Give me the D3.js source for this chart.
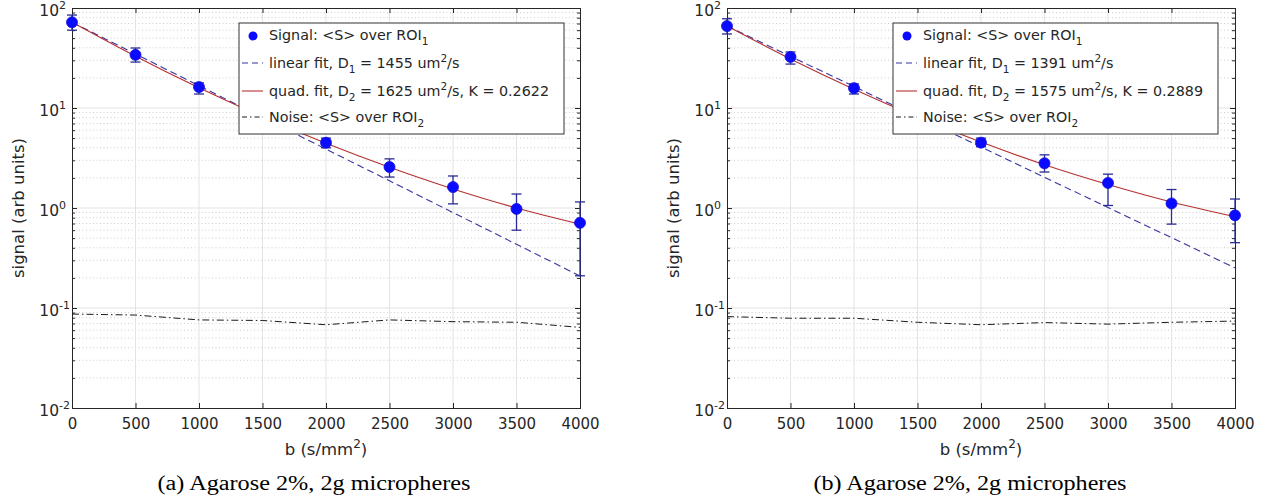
<!DOCTYPE html>
<html><head><meta charset="utf-8">
<script src="https://cdn.jsdelivr.net/npm/d3@7"></script>
<style>
html,body{margin:0;padding:0;background:#fff;}
svg{display:block;}
text{font-family:"DejaVu Sans",sans-serif;fill:#262626;}
</style></head>
<body>
<svg id="chart" width="1270" height="503"></svg>
<script>
// ---- data ----
const bValues = [0, 500, 1000, 1500, 2000, 2500, 3000, 3500, 4000];
const sigB = [0, 500, 1000, 2000, 2500, 3000, 3500, 4000];
const xTicks = [0, 500, 1000, 1500, 2000, 2500, 3000, 3500, 4000];
const yTickExps = [-2, -1, 0, 1, 2];

// panel (a)
const sigA   = [72, 34, 16.2, 4.5, 2.57, 1.62, 0.98, 0.71];
const errHiA = [85, 39.8, 17.8, 5.0, 3.1, 2.09, 1.38, 1.15];
const errLoA = [60, 28.8, 13.8, 4.0, 2.04, 1.1, 0.6, 0.21];
const linA   = [72, 34.7, 16.7, 8.06, 3.88, 1.87, 0.90, 0.434, 0.209];
const quadA  = [72, 32.9, 15.9, 8.16, 4.43, 2.55, 1.55, 1.00, 0.69];
const noiseA = [0.087, 0.085, 0.076, 0.075, 0.068, 0.076, 0.073, 0.072, 0.064];
const legendA = {D1: "1455", D2: "1625", K: "0.2622"};
const captionA = "(a) Agarose 2%, 2g micropheres";

// panel (b)
const sigBv  = [66, 32.4, 15.8, 4.5, 2.8, 1.78, 1.11, 0.845];
const errHiB = [78, 36.3, 17.4, 5.0, 3.4, 2.18, 1.53, 1.23];
const errLoB = [55, 27.5, 13.8, 4.1, 2.29, 1.06, 0.69, 0.45];
const linB   = [66, 32.9, 16.4, 8.18, 4.08, 2.03, 1.01, 0.505, 0.252];
const quadB  = [66, 30.9, 15.4, 8.13, 4.56, 2.71, 1.72, 1.15, 0.82];
const noiseB = [0.082, 0.079, 0.079, 0.072, 0.068, 0.0715, 0.069, 0.072, 0.074];
const legendB = {D1: "1391", D2: "1575", K: "0.2889"};
const captionB = "(b) Agarose 2%, 2g micropheres";

const svg = d3.select("#chart");

function panel(opt) {
  const {x0, x1, top, bottom} = opt;
  const x = d3.scaleLinear().domain([0, 4000]).range([x0, x1]);
  const y = d3.scaleLog().domain([0.01, 100]).range([bottom, top]);
  const g = svg.append("g");

  // minor grid (dotted)
  const minors = [];
  for (let e = -2; e < 2; e++) for (let m = 2; m <= 9; m++) minors.push(m * Math.pow(10, e));
  g.append("g").selectAll("line").data(minors).join("line")
    .attr("x1", x0).attr("x2", x1).attr("y1", d => y(d)).attr("y2", d => y(d))
    .attr("stroke", "#c0c0c0").attr("stroke-width", 0.8).attr("stroke-dasharray", "1,2.5");
  // major grid
  g.append("g").selectAll("line").data(xTicks.slice(1, -1)).join("line")
    .attr("x1", d => x(d)).attr("x2", d => x(d)).attr("y1", top).attr("y2", bottom)
    .attr("stroke", "#e3e3e3").attr("stroke-width", 1);
  g.append("g").selectAll("line").data(yTickExps.slice(1, -1)).join("line")
    .attr("x1", x0).attr("x2", x1).attr("y1", d => y(Math.pow(10, d))).attr("y2", d => y(Math.pow(10, d)))
    .attr("stroke", "#e3e3e3").attr("stroke-width", 1);

  // axes via d3 axis (ticks inward)
  const axB = d3.axisBottom(x).tickValues(xTicks).tickSize(-5).tickFormat(d3.format("d")).tickPadding(10);
  const gx = g.append("g").attr("transform", `translate(0,${bottom})`).call(axB);
  gx.selectAll("text").attr("font-size", 15).attr("font-family", "DejaVu Sans").attr("fill", "#262626");
  const axT = d3.axisTop(x).tickValues(xTicks).tickSize(-5).tickFormat("");
  g.append("g").attr("transform", `translate(0,${top})`).call(axT);

  const majors = yTickExps.map(e => Math.pow(10, e));
  const axL = d3.axisLeft(y).tickValues(majors).tickSize(-5).tickFormat("");
  g.append("g").attr("transform", `translate(${x0},0)`).call(axL);
  const axLm = d3.axisLeft(y).tickValues(minors).tickSize(-3).tickFormat("");
  g.append("g").attr("transform", `translate(${x0},0)`).call(axLm);
  const axR = d3.axisRight(y).tickValues(majors).tickSize(-5).tickFormat("");
  g.append("g").attr("transform", `translate(${x1},0)`).call(axR);
  const axRm = d3.axisRight(y).tickValues(minors).tickSize(-3).tickFormat("");
  g.append("g").attr("transform", `translate(${x1},0)`).call(axRm);
  g.selectAll(".domain").attr("stroke", "#262626");
  g.selectAll(".tick line").attr("stroke", "#262626");

  // y tick labels 10^e
  const yl = g.append("g").selectAll("text").data(yTickExps).join("text")
    .attr("x", x0 - 13).attr("y", d => y(Math.pow(10, d)) + 8)
    .attr("text-anchor", "end").attr("font-size", 15.5);
  yl.append("tspan").text("10");
  g.append("g").selectAll("text").data(yTickExps).join("text")
    .attr("x", x0 - 13).attr("y", d => y(Math.pow(10, d)) + 1)
    .attr("font-size", 11).attr("text-anchor", "start")
    .text(d => String(d));

  // axis labels
  const xl = g.append("text").attr("x", (x0 + x1) / 2).attr("y", 455)
    .attr("text-anchor", "middle").attr("font-size", 16.5);
  xl.append("tspan").text("b (s/mm");
  xl.append("tspan").attr("font-size", 12).attr("dy", -7).text("2");
  xl.append("tspan").attr("dy", 7).text(")");
  g.append("text").attr("transform", `translate(${x0 - 48},${(top + bottom) / 2}) rotate(-90)`)
    .attr("text-anchor", "middle").attr("font-size", 16.5).text("signal (arb units)");

  // caption
  g.append("text").attr("x", opt.capX).attr("y", 490).attr("text-anchor", "middle")
    .style("font-family", "'Liberation Serif', serif").attr("font-size", 20)
    .attr("textLength", 313).attr("lengthAdjust", "spacingAndGlyphs")
    .attr("fill", "#000").style("fill", "#000").text(opt.caption);

  // noise
  const lineGen = d3.line().x((d, i) => x(bValues[i])).y(d => y(d));
  g.append("path").datum(opt.noise).attr("d", lineGen).attr("fill", "none")
    .attr("stroke", "#1a1a1a").attr("stroke-width", 1).attr("stroke-dasharray", "7,3,1.5,3");
  // linear fit
  g.append("path").datum(opt.lin).attr("d", lineGen).attr("fill", "none")
    .attr("stroke", "#3535a0").attr("stroke-width", 1.1).attr("stroke-dasharray", "7,4");
  // quad fit
  const curveGen = d3.line().x((d, i) => x(bValues[i])).y(d => y(d)).curve(d3.curveMonotoneX);
  g.append("path").datum(opt.quad).attr("d", curveGen).attr("fill", "none")
    .attr("stroke", "#b53030").attr("stroke-width", 1.1);

  // error bars
  const eb = g.append("g").attr("stroke", "#2b2b96").attr("stroke-width", 1.3);
  sigB.forEach((b, i) => {
    const cx = x(b);
    eb.append("line").attr("x1", cx).attr("x2", cx).attr("y1", y(opt.hi[i])).attr("y2", y(opt.lo[i]));
    eb.append("line").attr("x1", cx - 5).attr("x2", cx + 5).attr("y1", y(opt.hi[i])).attr("y2", y(opt.hi[i]));
    eb.append("line").attr("x1", cx - 5).attr("x2", cx + 5).attr("y1", y(opt.lo[i])).attr("y2", y(opt.lo[i]));
  });
  // markers
  g.append("g").selectAll("circle").data(opt.sig).join("circle")
    .attr("cx", (d, i) => x(sigB[i])).attr("cy", d => y(d)).attr("r", 5.5)
    .attr("fill", "#0a0aff").attr("stroke", "#1010e0").attr("stroke-width", 0.8);

  // legend
  const lx = opt.legX, ly = 23, lw = 325, lh = 111;
  const lg = g.append("g");
  lg.append("rect").attr("x", lx).attr("y", ly).attr("width", lw).attr("height", lh)
    .attr("fill", "#fff").attr("stroke", "#333").attr("stroke-width", 1);
  const rows = [ly + 12, ly + 40, ly + 68, ly + 94];
  const tx = lx + 30, fs = 14.3;
  lg.append("circle").attr("cx", lx + 14).attr("cy", rows[0] + 1).attr("r", 4.5).attr("fill", "#0a0aff");
  lg.append("line").attr("x1", lx + 3).attr("x2", lx + 24).attr("y1", rows[1]).attr("y2", rows[1])
    .attr("stroke", "#3535a0").attr("stroke-width", 1.1).attr("stroke-dasharray", "6,4");
  lg.append("line").attr("x1", lx + 3).attr("x2", lx + 24).attr("y1", rows[2]).attr("y2", rows[2])
    .attr("stroke", "#b53030").attr("stroke-width", 1.1);
  lg.append("line").attr("x1", lx + 3).attr("x2", lx + 24).attr("y1", rows[3]).attr("y2", rows[3])
    .attr("stroke", "#1a1a1a").attr("stroke-width", 1).attr("stroke-dasharray", "5,3,1.5,3");

  function ltext(row) {
    return lg.append("text").attr("x", tx).attr("y", row + 5).attr("font-size", fs).attr("fill", "#111");
  }
  const sfs = 10.5;
  let t = ltext(rows[0]);
  t.append("tspan").text("Signal: <S> over ROI");
  t.append("tspan").attr("font-size", sfs).attr("dy", 5).text("1");
  t = ltext(rows[1]);
  t.append("tspan").text("linear fit, D");
  t.append("tspan").attr("font-size", sfs).attr("dy", 5).text("1");
  t.append("tspan").attr("dy", -5).text(` = ${opt.leg.D1} um`);
  t.append("tspan").attr("font-size", sfs).attr("dy", -6).text("2");
  t.append("tspan").attr("dy", 6).text("/s");
  t = ltext(rows[2]);
  t.append("tspan").text("quad. fit, D");
  t.append("tspan").attr("font-size", sfs).attr("dy", 5).text("2");
  t.append("tspan").attr("dy", -5).text(` = ${opt.leg.D2} um`);
  t.append("tspan").attr("font-size", sfs).attr("dy", -6).text("2");
  t.append("tspan").attr("dy", 6).text(`/s, K = ${opt.leg.K}`);
  t = ltext(rows[3]);
  t.append("tspan").text("Noise: <S> over ROI");
  t.append("tspan").attr("font-size", sfs).attr("dy", 5).text("2");
}

panel({x0: 72, x1: 580, top: 8, bottom: 408, sig: sigA, hi: errHiA, lo: errLoA,
  lin: linA, quad: quadA, noise: noiseA, leg: legendA, legX: 239, caption: captionA, capX: 314});
panel({x0: 727, x1: 1235, top: 8, bottom: 408, sig: sigBv, hi: errHiB, lo: errLoB,
  lin: linB, quad: quadB, noise: noiseB, leg: legendB, legX: 893, caption: captionB, capX: 970});
</script>
</body></html>
